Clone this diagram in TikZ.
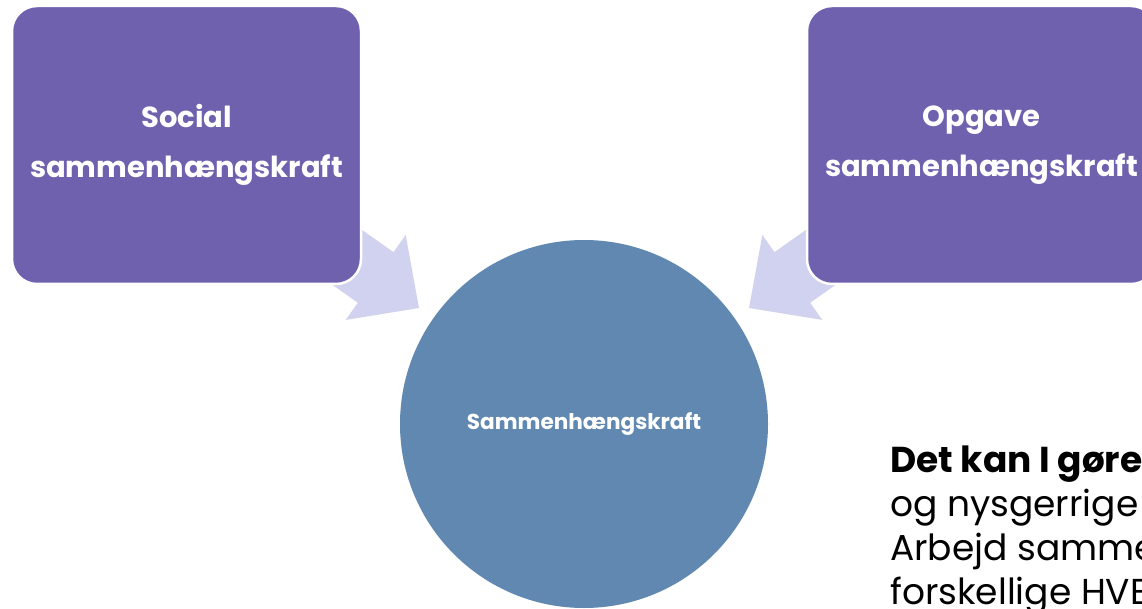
\documentclass[tikz,border=0pt]{standalone}
\usepackage{fontspec}
\setmainfont{Poppins}
\usetikzlibrary{positioning}
\definecolor{boxpurple}{HTML}{6F61AE}
\definecolor{circleblue}{HTML}{6088B0}
\definecolor{arrowlilac}{HTML}{D1D2F0}
\tikzset{
  kraftbox/.style={draw=white, line width=2.5pt, fill=boxpurple, rounded corners=25pt,
    minimum width=349pt, minimum height=278pt, text=white, align=center,
    font=\fontsize{29}{50}\selectfont\bfseries},
  bigarrow/.style={fill=arrowlilac, draw=none}
}
\begin{document}
\begin{tikzpicture}[x=1pt,y=1pt]
  \clip (0,0) rectangle (1142,608);
  % arrows behind the boxes
  \begin{scope}[shift={(419,300)}, rotate=-35.2]
    \fill[bigarrow] (0,0) -- (-53,52) -- (-53,31) -- (-150,31) -- (-150,-31) -- (-53,-31) -- (-53,-52) -- cycle;
  \end{scope}
  \begin{scope}[shift={(749,300)}, rotate=215.2]
    \fill[bigarrow] (0,0) -- (-53,52) -- (-53,31) -- (-150,31) -- (-150,-31) -- (-53,-31) -- (-53,-52) -- cycle;
  \end{scope}
  % boxes and circle
  \node[kraftbox] (social) at (186.5,463) {Social\\sammenhængskraft};
  \node[kraftbox] (opgave) at (981.5,463) {Opgave\\sammenhængskraft};
  \node[circle, fill=circleblue, minimum size=368pt, inner sep=0pt, text=white,
    font=\fontsize{21.6}{24}\selectfont\bfseries] (samlet) at (584,184) {Sammenhængskraft};
  % text bottom right
  \node[anchor=north west, inner sep=0pt, align=left, font=\fontsize{36}{44}\selectfont] (tekst) at (890,162)
    {\textbf{Det kan I gøre}\\og nysgerrige\\Arbejd samme\\forskellige HVE};
\end{tikzpicture}
\end{document}
